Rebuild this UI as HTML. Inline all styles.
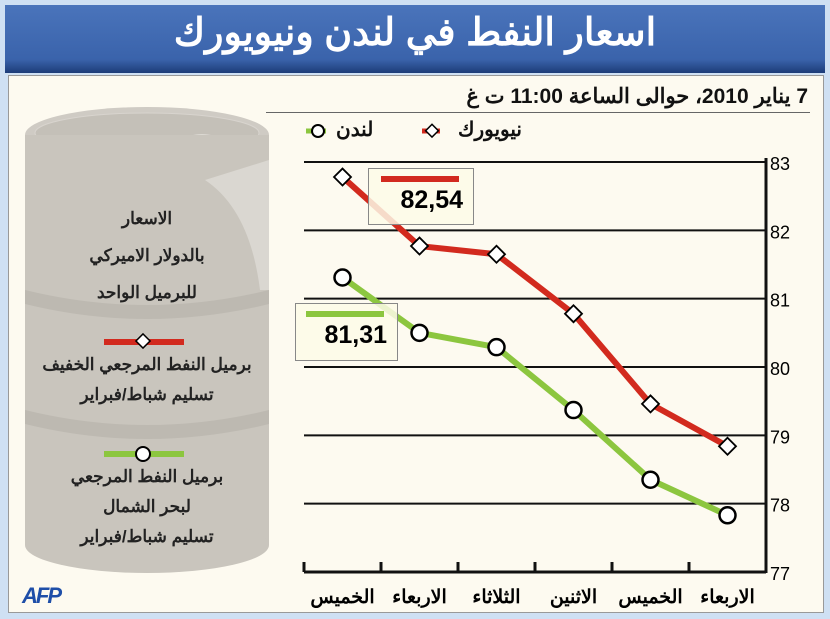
<!DOCTYPE html>
<html><head><meta charset="utf-8"><style>
body{margin:0;width:830px;height:619px;background:#cfe0f3;font-family:"Liberation Sans","Noto Sans CJK SC",sans-serif;overflow:hidden;position:relative}
.t{position:absolute;font-weight:bold;color:#111;direction:rtl;white-space:nowrap}
</style></head><body>
<div style="position:absolute;left:5px;top:5px;width:820px;height:68px;background:linear-gradient(#4a74bb,#3a63ab 80%,#1d3c78);"></div>
<div class="t" style="left:5px;top:10px;width:820px;text-align:center;direction:rtl;color:#fff;font-size:38px;">اسعار النفط في لندن ونيويورك</div>
<div style="position:absolute;left:8px;top:75px;width:814px;height:536px;background:#fdfaf0;border:1px solid #999"></div>
<div class="t" style="right:22px;top:84px;font-size:21px;">7 يناير 2010، حوالى الساعة 11:00 ت غ</div>
<div style="position:absolute;left:266px;top:112px;width:544px;height:1px;background:#666"></div>
<svg width="830" height="619" style="position:absolute;left:0;top:0">
<g fill="#c9c5bd">
<ellipse cx="147" cy="135" rx="122" ry="28" fill="#cfcbc4"/>
<ellipse cx="147" cy="133" rx="112" ry="20" fill="#c4c0b8" stroke="#d8d4ce"/>
<ellipse cx="202" cy="140" rx="16" ry="6" fill="#dcd9d3"/>
<rect x="25" y="135" width="244" height="410"/>
<ellipse cx="147" cy="545" rx="122" ry="28"/>
<path d="M25 290 Q147 320 269 290 L269 304 Q147 334 25 304Z" fill="#bdb9b1"/>
<path d="M25 410 Q147 440 269 410 L269 424 Q147 454 25 424Z" fill="#bdb9b1"/>
<path d="M205 180 Q250 210 260 290 L269 290 L269 160 Z" fill="#dad7d1"/>
</g>
<g><line x1="104" y1="342" x2="184" y2="342" stroke="#d22a1e" stroke-width="6"/><rect x="138" y="336" width="10" height="10" transform="rotate(45 143 341)" fill="#fff" stroke="#000" stroke-width="1.5"/></g>
<g><line x1="104" y1="454" x2="184" y2="454" stroke="#8cc63f" stroke-width="6"/><circle cx="143" cy="454" r="7" fill="#fff" stroke="#000" stroke-width="2"/></g>
<g>
<line x1="422" y1="131" x2="440" y2="131" stroke="#d22a1e" stroke-width="5"/><rect x="428" y="126" width="9" height="9" transform="rotate(45 432 130)" fill="#fff" stroke="#000" stroke-width="1.5"/>
<line x1="306" y1="131" x2="326" y2="131" stroke="#8cc63f" stroke-width="5"/><circle cx="318" cy="131" r="6" fill="#fff" stroke="#000" stroke-width="2"/>
</g>
<g id="grid"></g><g id="lines"></g>
</svg>
<div class="t" style="left:458px;top:117px;font-size:20px;">نيويورك</div>
<div class="t" style="left:336px;top:117px;font-size:20px;">لندن</div>
<div class="t" style="left:25px;width:244px;top:200px;text-align:center;font-size:17px;line-height:37px;color:#222">الاسعار<br>بالدولار الاميركي<br>للبرميل الواحد</div>
<div class="t" style="left:25px;width:244px;top:350px;text-align:center;font-size:17px;line-height:30px;color:#222">برميل النفط المرجعي الخفيف<br>تسليم شباط/فبراير</div>
<div class="t" style="left:25px;width:244px;top:462px;text-align:center;font-size:17px;line-height:30px;color:#222">برميل النفط المرجعي<br>لبحر الشمال<br>تسليم شباط/فبراير</div>
<div style="position:absolute;left:22px;top:583px;font:italic bold 22px 'Liberation Sans',sans-serif;color:#1e4ea8;letter-spacing:-2px">AFP</div>
<div style="position:absolute;left:368px;top:168px;width:104px;height:55px;border:1px solid #888;background:rgba(253,250,232,0.85)">
<div style="margin:7px 0 0 12px;width:78px;height:6px;background:#d22a1e"></div>
<div style="font:bold 25px 'Liberation Sans',sans-serif;text-align:right;padding-right:10px;margin-top:4px">82,54</div></div>
<div style="position:absolute;left:295px;top:303px;width:101px;height:56px;border:1px solid #888;background:rgba(253,250,232,0.85)">
<div style="margin:7px 0 0 10px;width:78px;height:6px;background:#8cc63f"></div>
<div style="font:bold 25px 'Liberation Sans',sans-serif;text-align:right;padding-right:10px;margin-top:4px">81,31</div></div>
<script>
const categories=["الخميس","الاربعاء","الثلاثاء","الاثنين","الخميس","الاربعاء"];
const nyValues=[82.78,81.77,81.65,80.78,79.46,78.84];
const londonValues=[81.31,80.5,80.29,79.37,78.35,77.83];
const yTicks=[77,78,79,80,81,82,83];
const NS="http://www.w3.org/2000/svg";
const x0=304,x1=766,y0=572,y1=162;
function xs(i){return x0+(x1-x0)/categories.length*(i+0.5);}
function ys(v){return y0-(v-77)/(83-77)*(y0-y1);}
function mk(t,a,p){const e=document.createElementNS(NS,t);for(const k in a)e.setAttribute(k,a[k]);p.appendChild(e);return e;}
const g=document.getElementById('grid'),L=document.getElementById('lines');
yTicks.forEach(v=>{
 if(v>77){const l=mk('line',{x1:x0,x2:x1,y1:ys(v),y2:ys(v),stroke:'#111','stroke-width':2},g);
 
 }
 const t=mk('text',{x:x1+4,y:ys(v)+8,'font-size':18,'font-family':'Liberation Sans, sans-serif'},g);t.textContent=v;
 
 
});
mk('line',{x1:x1,x2:x1,y1:y1-4,y2:y0+1,stroke:'#111','stroke-width':3},g);
mk('line',{x1:x0,x2:x1,y1:y0,y2:y0,stroke:'#111','stroke-width':3},g);
for(let i=0;i<=categories.length;i++){mk('line',{x1:x0+(x1-x0)/categories.length*i,x2:x0+(x1-x0)/categories.length*i,y1:y0,y2:y0-10,stroke:'#111','stroke-width':3},g);}
categories.forEach((c,i)=>{const t=mk('text',{x:xs(i),y:603,'text-anchor':'middle','font-size':19,'font-weight':'bold','font-family':'Liberation Sans, Noto Sans CJK SC, sans-serif'},g);t.textContent=c;
 
 });
function series(vals,col,name,marker){
 const d=vals.map((v,i)=>(i?'L':'M')+xs(i)+' '+ys(v)).join(' ');
 const p=mk('path',{d:d,fill:'none',stroke:col,'stroke-width':6,'stroke-linejoin':'round'},L);
 
 
 vals.forEach((v,i)=>{let m;
  if(marker==='d'){m=mk('rect',{x:xs(i)-6,y:ys(v)-6,width:12,height:12,transform:`rotate(45 ${xs(i)} ${ys(v)})`,fill:'#fff',stroke:'#000','stroke-width':1.8},L);}
  else{m=mk('circle',{cx:xs(i),cy:ys(v),r:8,fill:'#fff',stroke:'#000','stroke-width':2.5},L);}
  
  });
}
series(nyValues,'#d22a1e','ny','d');
series(londonValues,'#8cc63f','london','c');
</script>
</body></html>
